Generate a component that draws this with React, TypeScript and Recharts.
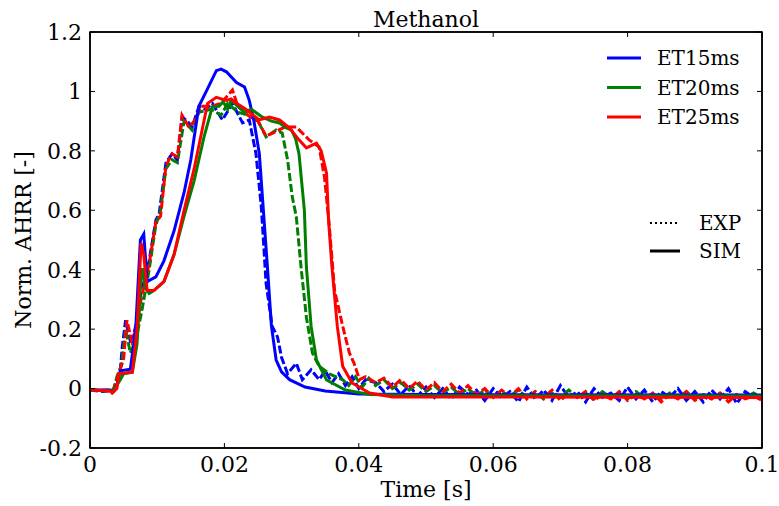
import React from 'react'
import { LineChart, Line, XAxis, YAxis, ReferenceArea } from 'recharts'

// ─── Data (time [s], normalised AHRR) ─────────────────────────
const simBlue: [number, number][] = [
  [0, -0.005], [0.003, -0.005], [0.0035, -0.01], [0.004, 0.01], [0.0045, 0.06], [0.006, 0.065],
  [0.0068, 0.2], [0.0075, 0.5], [0.008, 0.52], [0.0085, 0.36], [0.0098, 0.376], [0.011, 0.43],
  [0.0125, 0.53], [0.014, 0.66], [0.015, 0.77], [0.0162, 0.95], [0.0173, 1.0], [0.0188, 1.07],
  [0.0195, 1.075], [0.0203, 1.066], [0.0218, 1.03], [0.023, 1.015], [0.0237, 0.97], [0.0244, 0.9],
  [0.0252, 0.79], [0.0258, 0.6], [0.0264, 0.41], [0.027, 0.21], [0.0277, 0.096], [0.0285, 0.056],
  [0.0297, 0.03], [0.032, 0.005], [0.035, -0.008], [0.04, -0.018], [0.05, -0.02], [0.1, -0.022],
]

const simGreen: [number, number][] = [
  [0, -0.005], [0.0035, -0.008], [0.0045, 0.03], [0.005, 0.05], [0.0063, 0.055], [0.007, 0.15],
  [0.0076, 0.38], [0.0078, 0.405], [0.0082, 0.34], [0.0088, 0.32], [0.0095, 0.33], [0.011, 0.36],
  [0.0125, 0.45], [0.014, 0.58], [0.0155, 0.7], [0.017, 0.85], [0.0182, 0.948], [0.0192, 0.95],
  [0.0198, 0.965], [0.0205, 0.94], [0.021, 0.97], [0.022, 0.95], [0.023, 0.93], [0.024, 0.94],
  [0.0256, 0.914], [0.027, 0.9], [0.0282, 0.894], [0.029, 0.88], [0.03, 0.87], [0.0306, 0.84],
  [0.0311, 0.79], [0.0319, 0.6], [0.0322, 0.41], [0.0329, 0.21], [0.0337, 0.096], [0.0352, 0.029],
  [0.038, -0.005], [0.0416, -0.02], [0.05, -0.024], [0.1, -0.025],
]

const simRed: [number, number][] = [
  [0, -0.005], [0.003, -0.008], [0.0033, -0.015], [0.004, 0.0], [0.0043, 0.05], [0.0063, 0.055],
  [0.007, 0.2], [0.0076, 0.49], [0.008, 0.45], [0.0085, 0.33], [0.0095, 0.33], [0.011, 0.36],
  [0.0125, 0.45], [0.014, 0.6], [0.0155, 0.74], [0.0165, 0.85], [0.0175, 0.96], [0.0188, 0.98],
  [0.0203, 0.97], [0.021, 0.975], [0.0218, 0.96], [0.0232, 0.94], [0.0252, 0.904], [0.0267, 0.914],
  [0.0282, 0.904], [0.0297, 0.877], [0.0311, 0.837], [0.0322, 0.81], [0.0337, 0.826], [0.0344, 0.8],
  [0.0352, 0.725], [0.0355, 0.567], [0.036, 0.41], [0.0368, 0.21], [0.0376, 0.075], [0.039, 0.019],
  [0.0416, -0.015], [0.045, -0.028], [0.1, -0.03],
]

const expBlueHead: [number, number][] = [
  [0, -0.005], [0.002, -0.01], [0.0035, -0.005], [0.004, 0.03], [0.0045, 0.06], [0.0048, 0.14],
  [0.0053, 0.23], [0.0061, 0.15], [0.0068, 0.21], [0.0076, 0.32], [0.0088, 0.43], [0.0098, 0.567],
  [0.0103, 0.59], [0.0113, 0.76], [0.0122, 0.79], [0.013, 0.77], [0.0137, 0.914], [0.0145, 0.9],
  [0.0152, 0.88], [0.0162, 0.948], [0.0172, 0.94], [0.0182, 0.96], [0.0197, 0.904], [0.0212, 0.96],
  [0.0227, 0.894], [0.0237, 0.904], [0.0247, 0.79], [0.0255, 0.61], [0.0262, 0.355], [0.0271, 0.21],
  [0.0279, 0.174], [0.0285, 0.105], [0.0294, 0.05], [0.0307, 0.085], [0.0316, 0.03], [0.0329, 0.063],
  [0.0341, 0.03], [0.035, 0.06], [0.036, 0.02], [0.037, 0.05], [0.038, 0.01], [0.039, 0.04],
  [0.04, 0.0], [0.041, 0.03],
]

const expGreenHead: [number, number][] = [
  [0, -0.005], [0.002, -0.008], [0.0035, -0.003], [0.004, 0.04], [0.0047, 0.08], [0.0053, 0.2],
  [0.006, 0.12], [0.0068, 0.16], [0.0077, 0.26], [0.0088, 0.4], [0.0098, 0.55], [0.0105, 0.6],
  [0.0113, 0.74], [0.0122, 0.77], [0.013, 0.76], [0.014, 0.9], [0.0152, 0.87], [0.0162, 0.93],
  [0.018, 0.94], [0.0195, 0.92], [0.0205, 0.96], [0.022, 0.93], [0.0235, 0.92], [0.025, 0.9],
  [0.0262, 0.847], [0.0277, 0.87], [0.0286, 0.86], [0.0294, 0.77], [0.0301, 0.645], [0.0307, 0.578],
  [0.0314, 0.41], [0.0322, 0.24], [0.0331, 0.12], [0.0341, 0.075], [0.0356, 0.05], [0.0376, 0.03],
  [0.0385, 0.01], [0.0395, 0.04], [0.0405, 0.005], [0.0415, 0.035],
]

const expRedHead: [number, number][] = [
  [0, -0.005], [0.002, -0.006], [0.0035, -0.004], [0.004, 0.03], [0.005, 0.1], [0.0055, 0.23],
  [0.0062, 0.16], [0.0069, 0.2], [0.0076, 0.3], [0.0088, 0.42], [0.0098, 0.56], [0.0105, 0.58],
  [0.0113, 0.75], [0.0122, 0.79], [0.013, 0.78], [0.0137, 0.92], [0.0147, 0.88], [0.0155, 0.9],
  [0.0165, 0.95], [0.018, 0.95], [0.0195, 0.96], [0.0212, 1.005], [0.022, 0.95], [0.0235, 0.92],
  [0.025, 0.9], [0.0262, 0.85], [0.0272, 0.86], [0.029, 0.88], [0.0307, 0.88], [0.0326, 0.837],
  [0.0341, 0.813], [0.0349, 0.71], [0.0356, 0.55], [0.0364, 0.33], [0.0376, 0.21], [0.0386, 0.12],
  [0.0393, 0.085], [0.0401, 0.03], [0.041, 0.04],
]

// noisy tail of the measurements, sampled on a shared time grid
const tailT = [
  0.0425, 0.04375, 0.045, 0.04625, 0.0475, 0.04875, 0.05, 0.05125, 0.0525, 0.05375,
  0.055, 0.05625, 0.0575, 0.05875, 0.06, 0.06125, 0.0625, 0.06375, 0.065, 0.06625,
  0.0675, 0.06875, 0.07, 0.07125, 0.0725, 0.07375, 0.075, 0.07625, 0.0775, 0.07875,
  0.08, 0.08125, 0.0825, 0.08375, 0.085, 0.08625, 0.0875, 0.08875, 0.09, 0.09125,
  0.0925, 0.09375, 0.095, 0.09625, 0.0975, 0.09875, 0.1,
]
const expBlueTail = [
  0.02, -0.01, 0.015, -0.02, 0.01, -0.025, 0.005, -0.03, 0.0, -0.035,
  0.005, -0.02, -0.005, -0.04, 0.0, -0.03, -0.01, -0.045, 0.005, -0.035,
  -0.005, -0.04, 0.01, -0.03, -0.01, -0.045, 0.0, -0.03, -0.015, -0.04,
  0.005, -0.035, -0.005, -0.045, -0.01, -0.03, 0.0, -0.04, -0.01, -0.045,
  -0.005, -0.035, 0.0, -0.05, -0.01, -0.03, -0.02,
]
const expGreenTail = [
  0.01, 0.03, 0.0, 0.02, -0.005, 0.015, -0.01, 0.01, -0.015, 0.005,
  -0.02, 0.0, -0.025, -0.005, -0.03, -0.01, -0.025, -0.005, -0.03, -0.01,
  -0.035, -0.015, -0.03, -0.005, -0.03, -0.015, -0.035, -0.01, -0.03, -0.015,
  -0.035, -0.01, -0.03, -0.02, -0.035, -0.015, -0.03, -0.01, -0.035, -0.02,
  -0.03, -0.015, -0.035, -0.02, -0.03, -0.015, -0.03,
]
const expRedTail = [
  0.02, 0.035, 0.005, 0.03, 0.0, 0.025, -0.005, 0.02, -0.01, 0.015,
  -0.015, 0.01, -0.02, 0.0, -0.03, -0.005, -0.025, 0.0, -0.035, -0.01,
  -0.03, -0.005, -0.04, -0.015, -0.03, -0.01, -0.04, -0.02, -0.035, -0.01,
  -0.04, -0.02, -0.035, -0.015, -0.045, -0.02, -0.035, -0.01, -0.04, -0.025,
  -0.035, -0.015, -0.045, -0.02, -0.035, -0.025, -0.04,
]

const xTicks = [0, 0.02, 0.04, 0.06, 0.08, 0.1]
const yTicks = [-0.2, 0, 0.2, 0.4, 0.6, 0.8, 1, 1.2]

const legendSeries = ['ET15ms', 'ET20ms', 'ET25ms']

const COLORS = { blue: '#0000ff', green: '#008000', red: '#ff0000' }
const FONT = '"DejaVu Serif", serif'

const toPts = (arr: [number, number][]) => arr.map(([t, v]) => ({ t, v }))
const withTail = (head: [number, number][], tail: number[]) =>
  toPts(head).concat(tailT.map((t, i) => ({ t, v: tail[i] })))

const series = [
  { key: 'blue', color: COLORS.blue, sim: toPts(simBlue), exp: withTail(expBlueHead, expBlueTail) },
  { key: 'green', color: COLORS.green, sim: toPts(simGreen), exp: withTail(expGreenHead, expGreenTail) },
  { key: 'red', color: COLORS.red, sim: toPts(simRed), exp: withTail(expRedHead, expRedTail) },
]

const tickStyle = { fill: '#000', fontSize: 22, fontFamily: FONT }
const blank = () => ''

export default function App() {
  return (
    <div style={{ position: 'absolute', left: 0, top: 0, width: 779, height: 506, background: '#fff', fontFamily: FONT }}>
      <LineChart width={779} height={506} margin={{ top: 31, right: 16, bottom: 0, left: 0 }}>
        <XAxis
          dataKey="t" type="number" domain={[0, 0.1]} ticks={xTicks} height={58}
          tick={tickStyle} tickSize={-5} tickMargin={13} interval={0}
          stroke="#000" strokeWidth={1.5} tickLine={{ stroke: '#000', strokeWidth: 1 }}
          label={{ value: 'Time [s]', position: 'insideBottom', offset: 9, fill: '#000', fontSize: 22, fontFamily: FONT }}
        />
        <XAxis
          xAxisId="top" orientation="top" dataKey="t" type="number" domain={[0, 0.1]} ticks={xTicks}
          height={1} tickSize={-5} tickMargin={0} tick={{ fontSize: 1, fill: 'none' }} tickFormatter={blank} interval={0}
          stroke="#000" strokeWidth={1.5} tickLine={{ stroke: '#000', strokeWidth: 1 }}
        />
        <YAxis
          type="number" domain={[-0.2, 1.2]} ticks={yTicks} width={90}
          tick={tickStyle} tickSize={-5} tickMargin={13} interval={0}
          stroke="#000" strokeWidth={1.5} tickLine={{ stroke: '#000', strokeWidth: 1 }}
          label={{ value: 'Norm. AHRR [-]', angle: -90, position: 'insideLeft', offset: 23, fill: '#000', fontSize: 22, fontFamily: FONT, style: { textAnchor: 'middle' } }}
        />
        <YAxis
          yAxisId="right" orientation="right" type="number" domain={[-0.2, 1.2]} ticks={yTicks}
          width={1} tickSize={-5} tickMargin={0} tick={{ fontSize: 1, fill: 'none' }} tickFormatter={blank} interval={0}
          stroke="#000" strokeWidth={1.5} tickLine={{ stroke: '#000', strokeWidth: 1 }}
        />

        {/* invisible copy bound to the top/right axes so they get a domain */}
        <Line xAxisId="top" yAxisId="right" data={series[0].sim} dataKey="v" stroke="none"
          dot={false} activeDot={false} isAnimationActive={false} legendType="none" />

        {/* plot frame */}
        <ReferenceArea x1={0} x2={0.1} y1={-0.2} y2={1.2} fill="none" stroke="#000" strokeWidth={1.5} ifOverflow="visible" />

        {/* EXP: coloured dashes over a sparse black dotted line */}
        {series.map(s => (
          <Line key={'expk-' + s.key} data={s.exp} dataKey="v" type="linear" stroke="#000"
            strokeWidth={2} strokeDasharray="1.5 9.5" dot={false} isAnimationActive={false} />
        ))}
        {series.map(s => (
          <Line key={'exp-' + s.key} data={s.exp} dataKey="v" type="linear" stroke={s.color}
            strokeWidth={3} strokeDasharray="8 3" dot={false} isAnimationActive={false} />
        ))}
        {/* SIM: solid */}
        {series.map(s => (
          <Line key={'sim-' + s.key} data={s.sim} dataKey="v" type="linear" stroke={s.color}
            strokeWidth={3} dot={false} isAnimationActive={false} />
        ))}
      </LineChart>

      {/* title + legend */}
      <svg width={779} height={506} style={{ position: 'absolute', left: 0, top: 0, pointerEvents: 'none' }}>
        <text x={426} y={27} textAnchor="middle" fontSize={22} fontFamily={FONT} fill="#000">Methanol</text>
        {legendSeries.map((name, i) => {
          const y = 58 + i * 29.5
          const c = [COLORS.blue, COLORS.green, COLORS.red][i]
          return (
            <g key={name}>
              <line x1={607} x2={641} y1={y} y2={y} stroke={c} strokeWidth={3} />
              <text x={657} y={y + 7} fontSize={20} fontFamily={FONT} fill="#000">{name}</text>
            </g>
          )
        })}
        <line x1={650} x2={679} y1={223} y2={223} stroke="#000" strokeWidth={2} strokeDasharray="2 3" />
        <text x={699} y={230} fontSize={20} fontFamily={FONT} fill="#000">EXP</text>
        <line x1={650} x2={680} y1={251} y2={251} stroke="#000" strokeWidth={3} />
        <text x={699} y={258} fontSize={20} fontFamily={FONT} fill="#000">SIM</text>
      </svg>
    </div>
  )
}
